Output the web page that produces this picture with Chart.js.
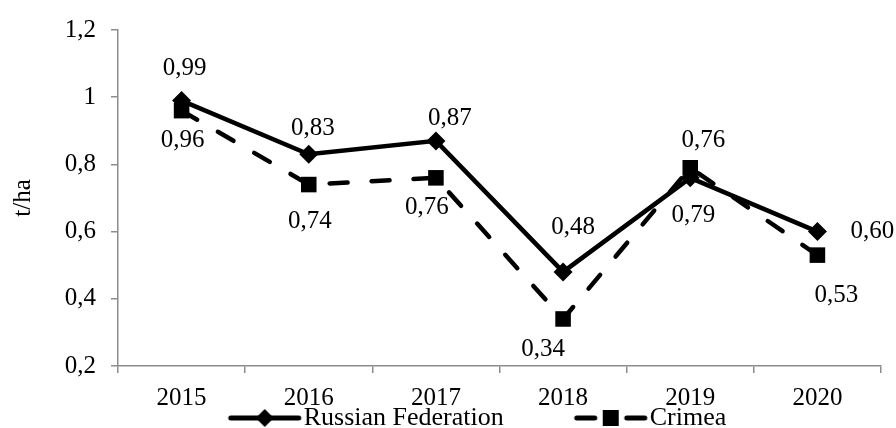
<!DOCTYPE html>
<html>
<head>
<meta charset="utf-8">
<script src="https://cdn.jsdelivr.net/npm/chart.js@4.4.0/dist/chart.umd.min.js"></script>
<style>
  html, body { margin: 0; padding: 0; background: #fff; overflow: hidden; }
  #wrap { width: 896px; height: 428px; position: relative; }
</style>
</head>
<body>
<div id="wrap"><canvas id="c"></canvas></div>
<script>
// Yield, t/ha
const years = ['2015', '2016', '2017', '2018', '2019', '2020'];
const russiaYield = [0.99, 0.83, 0.87, 0.48, 0.76, 0.60];
const crimeaYield = [0.96, 0.74, 0.76, 0.34, 0.79, 0.53];
const yTicks = [0.2, 0.4, 0.6, 0.8, 1, 1.2];

// Value label nudges from each point, in px: [dx, dy]
const russiaLabelShift = [[3, -32], [4, -26], [14, -22], [10, -44], [13, -37], [55, 0]];
const crimeaLabelShift = [[1, 30], [1, 37], [-9, 30], [-20, 30], [3, 48], [19, 40]];

const FAMILY = "'Liberation Serif', 'Times New Roman', serif";
const font = { family: FAMILY, size: 25 };
const legendFont = { family: FAMILY, size: 26 };
const AXIS = '#8c8c8c';
const LEGEND_GAP = 81;

const fmtTick = v => String(Math.round(v * 10) / 10).replace('.', ',');
const fmtValue = v => v.toFixed(2).replace('.', ',');

// Legend keys: a short line with the series marker in the middle
function makeKey(dashed, marker) {
  const c = document.createElement('canvas');
  c.width = 76; c.height = 24;
  const g = c.getContext('2d');
  g.strokeStyle = '#000';
  g.fillStyle = '#000';
  g.lineWidth = 5;
  g.lineCap = 'round';
  if (dashed) {
    g.beginPath(); g.moveTo(4, 12); g.lineTo(22, 12); g.stroke();
    g.beginPath(); g.moveTo(54, 12); g.lineTo(72, 12); g.stroke();
  } else {
    g.beginPath(); g.moveTo(4, 12); g.lineTo(72, 12); g.stroke();
  }
  g.beginPath();
  if (marker === 'diamond') {
    g.moveTo(38, 3); g.lineTo(47, 12); g.lineTo(38, 21); g.lineTo(29, 12);
  } else {
    g.rect(30, 4, 16, 16);
  }
  g.closePath();
  g.fill();
  return c;
}
const legendKeys = [makeKey(false, 'diamond'), makeKey(true, 'square')];

const labelShifts = [russiaLabelShift, crimeaLabelShift];

const valueLabels = {
  id: 'valueLabels',
  afterDatasetsDraw(chart) {
    const ctx = chart.ctx;
    ctx.save();
    ctx.font = `${font.size}px ${FAMILY}`;
    ctx.fillStyle = '#000';
    ctx.textAlign = 'center';
    ctx.textBaseline = 'middle';
    chart.data.datasets.forEach((ds, di) => {
      const meta = chart.getDatasetMeta(di);
      meta.data.forEach((pt, i) => {
        const [dx, dy] = labelShifts[di][i];
        ctx.fillText(fmtValue(ds.data[i]), pt.x + dx, pt.y + dy);
      });
    });
    ctx.restore();
  }
};

// Tuck the legend row in just under the year labels
const legendPlacement = {
  id: 'legendPlacement',
  afterLayout(chart) {
    const lg = chart.legend;
    if (!lg) return;
    lg.top = 418 - LEGEND_GAP - legendFont.size / 2;
    lg.bottom = chart.height;
    lg.height = lg.bottom - lg.top;
    lg.left += 42;
    lg.right += 42;
  }
};

new Chart(document.getElementById('c'), {
  type: 'line',
  data: {
    labels: years,
    datasets: [
      {
        label: 'Russian Federation',
        data: russiaYield,
        borderColor: '#000',
        backgroundColor: '#000',
        borderWidth: 4.5,
        pointStyle: 'rectRot',
        pointRadius: 9.5,
        pointBorderWidth: 0,
        pointBackgroundColor: '#000',
        tension: 0
      },
      {
        label: 'Crimea',
        data: crimeaYield,
        borderColor: '#000',
        backgroundColor: '#000',
        borderWidth: 4.5,
        borderDash: [18, 24],
        borderCapStyle: 'round',
        pointStyle: 'rect',
        pointRadius: 11,
        pointBorderWidth: 0,
        pointBackgroundColor: '#000',
        tension: 0
      }
    ]
  },
  options: {
    responsive: true,
    maintainAspectRatio: false,
    devicePixelRatio: 1,
    animation: false,
    layout: { padding: { top: 29, right: 15, bottom: 0, left: 0 } },
    scales: {
      x: {
        offset: true,
        grid: { offset: true, drawOnChartArea: false, drawTicks: true, tickLength: 7, color: AXIS, lineWidth: 1.5 },
        border: { color: AXIS, width: 1.5 },
        ticks: { color: '#000', font, padding: 10, maxRotation: 0 },
        afterFit(s) { s.height = 52; }
      },
      y: {
        min: 0.2,
        max: 1.2,
        afterBuildTicks(s) { s.ticks = yTicks.map(v => ({ value: v })); },
        grid: { drawOnChartArea: false, drawTicks: true, tickLength: 7, color: AXIS, lineWidth: 1.5 },
        border: { color: AXIS, width: 1.5 },
        ticks: { color: '#000', font, padding: 15, callback: v => fmtTick(v) },
        title: { display: true, text: 't/ha', color: '#000', font, padding: { top: 8, bottom: 0 } },
        afterFit(s) { s.width = 118; }
      }
    },
    plugins: {
      tooltip: { enabled: false },
      legend: {
        position: 'bottom',
        maxHeight: 10,
        labels: {
          usePointStyle: true,
          pointStyleWidth: 52,
          padding: LEGEND_GAP,
          color: '#000',
          font: legendFont,
          generateLabels(chart) {
            return chart.data.datasets.map((ds, i) => ({
              text: ds.label,
              datasetIndex: i,
              pointStyle: legendKeys[i],
              fillStyle: '#000',
              strokeStyle: '#000',
              lineWidth: 0,
              hidden: false
            }));
          }
        }
      }
    }
  },
  plugins: [valueLabels, legendPlacement]
});
</script>
</body>
</html>
